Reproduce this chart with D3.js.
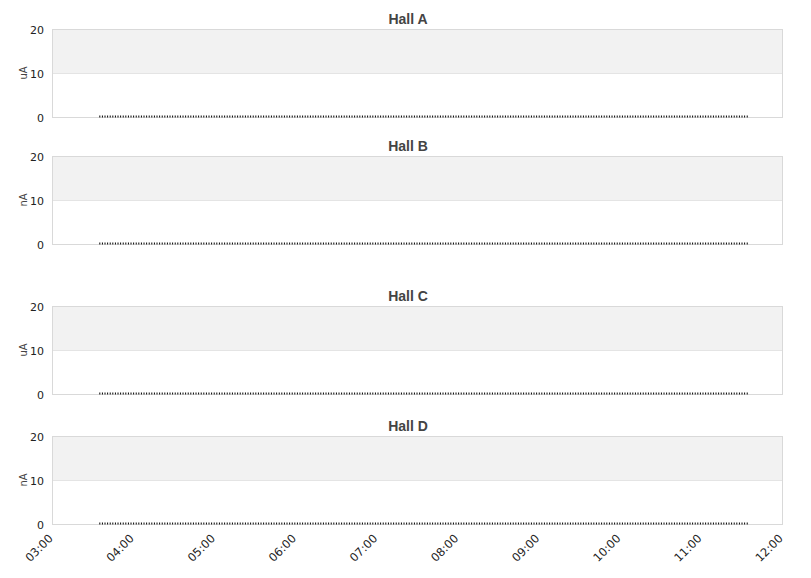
<!DOCTYPE html>
<html>
<head>
<meta charset="utf-8">
<script src="https://cdn.jsdelivr.net/npm/d3@7"></script>
<style>
  body { margin: 0; background: #fff; }
  svg { display: block; }
</style>
</head>
<body>
<svg id="chart"></svg>
<script>
// halls shown, with their units
var halls = ["Hall A", "Hall B", "Hall C", "Hall D"];
var units = ["uA", "nA", "uA", "nA"];

// readings (same flat zero trace in every hall)
var times = ["03:35", "04:00", "05:00", "06:00", "07:00", "08:00", "09:00", "10:00", "11:00", "11:35"];
var current = {
  "Hall A": [0, 0, 0, 0, 0, 0, 0, 0, 0, 0],
  "Hall B": [0, 0, 0, 0, 0, 0, 0, 0, 0, 0],
  "Hall C": [0, 0, 0, 0, 0, 0, 0, 0, 0, 0],
  "Hall D": [0, 0, 0, 0, 0, 0, 0, 0, 0, 0]
};

var xTicks = ["03:00", "04:00", "05:00", "06:00", "07:00", "08:00", "09:00", "10:00", "11:00", "12:00"];
var yTicks = [0, 10, 20];

var svgWidth = 811, svgHeight = 578;
var left = 52, right = 782, plotH = 88;
var tops = [29, 156, 306, 436];

var parse = d3.timeParse("%H:%M");

var svg = d3.select("#chart")
  .attr("width", svgWidth)
  .attr("height", svgHeight);

var x = d3.scaleTime()
  .domain([parse(xTicks[0]), parse(xTicks[xTicks.length - 1])])
  .range([left, right]);

halls.forEach(function(hall, i) {
  var top = tops[i];
  var y = d3.scaleLinear().domain([0, 20]).range([top + plotH, top]);
  var g = svg.append("g");

  // alternating bands
  g.append("rect")
    .attr("x", left).attr("y", y(20))
    .attr("width", right - left).attr("height", y(10) - y(20))
    .attr("fill", "#f2f2f2");

  // grid line at 10
  g.append("line")
    .attr("x1", left).attr("x2", right)
    .attr("y1", y(10) + 0.5).attr("y2", y(10) + 0.5)
    .attr("stroke", "#e4e4e4");

  // frame
  g.append("rect")
    .attr("x", left + 0.5).attr("y", y(20) + 0.5)
    .attr("width", right - left).attr("height", plotH)
    .attr("fill", "none")
    .attr("stroke", "#d9d9d9");

  // y axis
  var ya = g.append("g")
    .attr("transform", "translate(" + left + ",1)")
    .call(d3.axisLeft(y).tickValues(yTicks).tickSize(0).tickPadding(8));
  ya.select(".domain").remove();
  ya.selectAll("text")
    .attr("font-family", "DejaVu Sans")
    .attr("font-size", 11)
    .attr("fill", "#222");

  g.append("text")
    .attr("transform", "translate(27," + y(10) + ") rotate(-90)")
    .attr("text-anchor", "middle")
    .attr("font-family", "DejaVu Sans")
    .attr("font-size", 10)
    .attr("fill", "#444")
    .text(units[i]);

  g.append("text")
    .attr("x", 408)
    .attr("y", top - 5)
    .attr("text-anchor", "middle")
    .attr("font-family", "Liberation Sans")
    .attr("font-weight", "bold")
    .attr("font-size", 14)
    .attr("fill", "#444")
    .text(hall);

  var line = d3.line()
    .x(function(d) { return x(parse(d.t)); })
    .y(function(d) { return y(d.v); });

  var pts = times.map(function(t, k) { return { t: t, v: current[hall][k] }; });

  g.append("path")
    .datum(pts)
    .attr("fill", "none")
    .attr("stroke", "#000")
    .attr("stroke-width", 2)
    .attr("stroke-dasharray", "1,1.6")
    .attr("transform", "translate(0,-0.5)")
    .attr("d", line);
});

// bottom time axis
var xa = svg.append("g")
  .attr("transform", "translate(0," + (tops[3] + plotH) + ")")
  .call(d3.axisBottom(x)
    .tickValues(xTicks.map(parse))
    .tickFormat(d3.timeFormat("%H:%M"))
    .tickSize(0));
xa.select(".domain").remove();
xa.selectAll("text")
  .attr("font-family", "DejaVu Sans")
  .attr("font-size", 11.5)
  .attr("fill", "#222")
  .attr("text-anchor", "end")
  .attr("dy", 0)
  .attr("transform", "translate(-1,13) rotate(-45)");
</script>
</body>
</html>
